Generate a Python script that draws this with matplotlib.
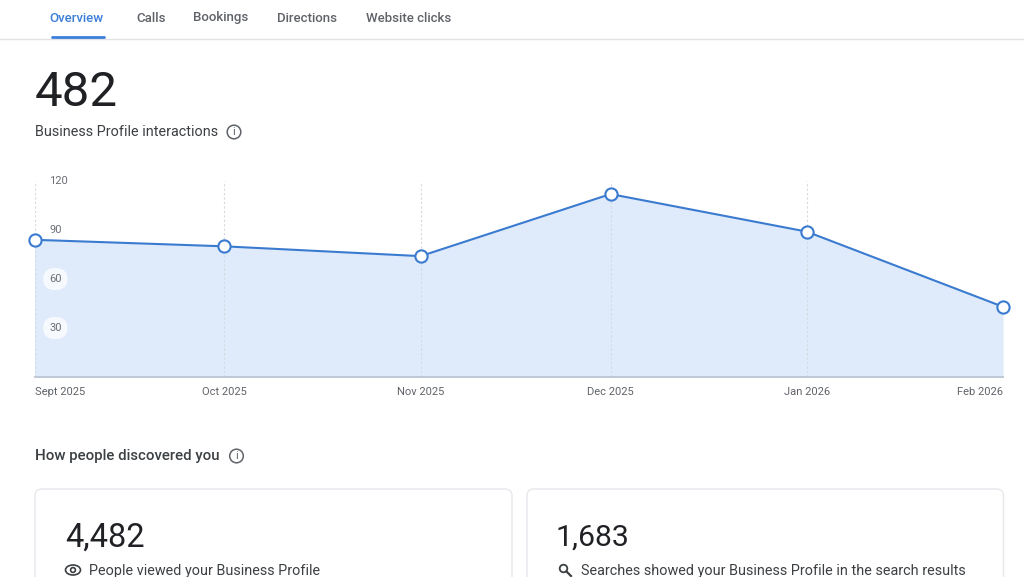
import matplotlib
matplotlib.use("Agg")
import matplotlib.pyplot as plt
from matplotlib.patches import Circle, Ellipse, FancyBboxPatch
from datetime import datetime

plt.rcParams['font.family'] = ['Roboto', 'DejaVu Sans']

# chart values
months = [datetime(2025, 9, 1), datetime(2025, 10, 1), datetime(2025, 11, 1),
          datetime(2025, 12, 1), datetime(2026, 1, 1), datetime(2026, 2, 1)]
interactions = [84, 80, 74, 112, 89, 43]
month_labels = ['Sept 2025', 'Oct 2025', 'Nov 2025', 'Dec 2025', 'Jan 2026', 'Feb 2026']
y_ticks = [30, 60, 90, 120]

tabs = ['Overview', 'Calls', 'Bookings', 'Directions', 'Website clicks']
tab_x = [49, 136, 193, 277, 366]

BLUE = '#3b7fd9'
LINE = '#3a7bd0'
FILL = '#dfeafb'
DARK = '#202124'
GREY = '#5f6368'
W, H = 1024, 577

fig = plt.figure(figsize=(W / 100, H / 100), dpi=100, facecolor='white')

# page overlay in pixel coordinates, y going down like a screenshot
page = fig.add_axes([0, 0, 1, 1], zorder=1)
page.set_xlim(0, W)
page.set_ylim(H, 0)
page.axis('off')


def info_icon(x, y):
    page.add_patch(Circle((x, y), 6.8, fill=False, ec=GREY, lw=1.1))
    page.text(x, y + 0.3, 'i', fontsize=8, color=GREY, ha='center', va='center')


# tabs
for name, x in zip(tabs, tab_x):
    page.text(x, 21.5, name, fontsize=9.5, color=BLUE if name == 'Overview' else GREY,
              ha='left', va='baseline', fontweight='medium')
page.plot([0, W], [39, 39], color='#e0e2e5', lw=1)
page.plot([52, 104], [37, 37], color=BLUE, lw=2, solid_capstyle='round')

# headline
page.text(35, 93, '482', fontsize=35.5, color=DARK, ha='left', va='center')
page.text(35, 132, 'Business Profile interactions', fontsize=10.35, color='#3c4043', ha='left', va='center')
info_icon(234, 132)

# chart, from the page's pixel box
left, right, top, bottom = 34.5, 1003, 181, 377
ax = fig.add_axes([left / W, 1 - bottom / H, (right - left) / W, (bottom - top) / H], zorder=0)
ax.set_xlim(months[0], months[-1])
ax.set_ylim(0, 120)
ax.patch.set_alpha(0)
for side in ['top', 'left', 'right']:
    ax.spines[side].set_visible(False)
ax.spines['bottom'].set_color('#bcc5d3')
ax.spines['bottom'].set_linewidth(1.3)

ax.fill_between(months, interactions, 0, color=FILL, lw=0, zorder=1)
ax.vlines(months, 0, 120, color='#d5d9e0', lw=0.8, linestyles=(0, (2, 2)), zorder=2)
ax.plot(months, interactions, color=LINE, lw=1.5, marker='o', ms=8.8, mfc='white',
        mec=LINE, mew=1.5, clip_on=False, zorder=5)

ax.set_xticks(months)
ax.set_xticklabels(month_labels, fontsize=8, color=GREY)
ax.tick_params(axis='x', length=0, pad=7)
ticklabels = ax.get_xticklabels()
ticklabels[0].set_ha('left')
ticklabels[-1].set_ha('right')

ax.set_yticks(y_ticks)
ax.set_yticklabels([])
ax.tick_params(axis='y', length=0)
for v in y_ticks:
    pad = dict(boxstyle='round,pad=0.55,rounding_size=1.1', fc='#f6f9fe', ec='none') if v < 90 else None
    ax.annotate(str(v), (months[0], v), xytext=(10.5, 0), textcoords='offset points', fontsize=8,
                color='#6b6f74', ha='left', va='center', bbox=pad, zorder=4)

# discovery section
page.text(35, 456, 'How people discovered you', fontsize=10.8, color='#3c4043', ha='left', va='center',
          fontweight='medium')
info_icon(236.5, 456)

for x0, x1 in [(35, 512), (527, 1003.5)]:
    page.add_patch(FancyBboxPatch((x0, 489), x1 - x0, 120, boxstyle='round,pad=0,rounding_size=7',
                                  fc='white', ec='#e6e8eb', lw=1))

page.text(65, 538, '4,482', fontsize=23.5, color=DARK, ha='left', va='center')
page.text(89, 570.5, 'People viewed your Business Profile', fontsize=10.4, color='#3c4043', ha='left', va='center')
page.add_patch(Ellipse((73, 570), 15, 10, fill=False, ec='#3c4043', lw=1.2))
page.add_patch(Circle((73, 570), 2.4, fill=False, ec='#3c4043', lw=1.2))

page.text(556, 538, '1,683', fontsize=21.8, color=DARK, ha='left', va='center')
page.text(581, 570.5, 'Searches showed your Business Profile in the search results', fontsize=10.4,
          color='#3c4043', ha='left', va='center')
page.add_patch(Circle((563.5, 568.5), 3.8, fill=False, ec='#3c4043', lw=1.3))
page.plot([566.5, 571], [571.5, 576], color='#3c4043', lw=1.6)

fig.savefig('out.png', dpi=100)
